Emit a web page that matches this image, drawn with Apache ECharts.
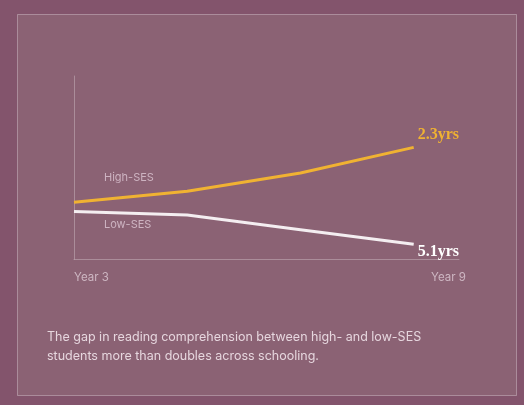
<!DOCTYPE html>
<html>
<head>
<meta charset="utf-8">
<script src="https://cdn.jsdelivr.net/npm/echarts@6/dist/echarts.min.js"></script>
<style>
  html, body { margin: 0; padding: 0; background: #83546c; }
  #chart { width: 524px; height: 405px; }
</style>
</head>
<body>
<div id="chart"></div>
<script>
// school years on the x axis
const years = [3, 5, 7, 9];
const xTickLabels = ['Year 3', 'Year 9'];
// reading score index
const highSES = [31, 37, 47, 61];
const lowSES = [26, 24, 16, 8];
const endLabels = ['2.3yrs', '5.1yrs'];
const seriesNames = ['High-SES', 'Low-SES'];

const chart = echarts.init(document.getElementById('chart'));

const pair = (vals) => vals.map((v, i) => [years[i], v]);

chart.setOption({
    backgroundColor: '#83546c',
    animation: false,
    grid: { left: 74, right: 65, top: 76, bottom: 146 },
    xAxis: {
        type: 'value',
        min: 3,
        max: 9.8,
        interval: 6.8,
        axisLine: { show: true, lineStyle: { color: 'rgba(255,255,255,0.28)', width: 1 } },
        axisTick: { show: false },
        splitLine: { show: false },
        axisLabel: {
            color: '#cdb6c2',
            fontFamily: 'Inter',
            fontSize: 11.5,
            margin: 13,
            alignMinLabel: 'left',
            alignMaxLabel: 'right',
            formatter: (v) => (v === 3 ? xTickLabels[0] : '{max|' + xTickLabels[1] + '}'),
            rich: { max: { padding: [0, -7, 0, 0] } }
        }
    },
    yAxis: {
        type: 'value',
        min: 0,
        max: 100,
        axisLine: { show: true, lineStyle: { color: 'rgba(255,255,255,0.28)', width: 1 } },
        axisTick: { show: false },
        axisLabel: { show: false },
        splitLine: { show: false }
    },
    series: [
        {
            name: seriesNames[0],
            type: 'line',
            data: pair(highSES),
            symbol: 'none',
            lineStyle: { color: '#f0b232', width: 3 },
            endLabel: {
                show: true,
                formatter: endLabels[0],
                color: '#f0b232',
                fontFamily: 'Liberation Serif',
                fontWeight: 'bold',
                fontSize: 16,
                distance: 4,
                offset: [0, -13]
            }
        },
        {
            name: seriesNames[1],
            type: 'line',
            data: pair(lowSES),
            symbol: 'none',
            lineStyle: { color: '#f4eef1', width: 3 },
            endLabel: {
                show: true,
                formatter: endLabels[1],
                color: '#ffffff',
                fontFamily: 'Liberation Serif',
                fontWeight: 'bold',
                fontSize: 16,
                distance: 4,
                offset: [0, 7]
            }
        }
    ],
    graphic: [
        {
            type: 'rect',
            z: -10,
            silent: true,
            shape: { x: 17.5, y: 14.5, width: 499, height: 381 },
            style: { fill: '#8b6274', stroke: 'rgba(255,255,255,0.3)', lineWidth: 1 }
        },
        {
            type: 'text',
            left: 104,
            top: 172,
            style: { text: seriesNames[0], fill: '#cdb3c1', font: '11px Inter' }
        },
        {
            type: 'text',
            left: 104,
            top: 219,
            style: { text: seriesNames[1], fill: '#cdb3c1', font: '11px Inter' }
        },
        {
            type: 'text',
            left: 47,
            top: 328,
            style: {
                text: 'The gap in reading comprehension between high- and low-SES\nstudents more than doubles across schooling.',
                fill: '#e6d6de',
                font: '12.5px Inter',
                lineHeight: 19
            }
        }
    ]
});
</script>
</body>
</html>
